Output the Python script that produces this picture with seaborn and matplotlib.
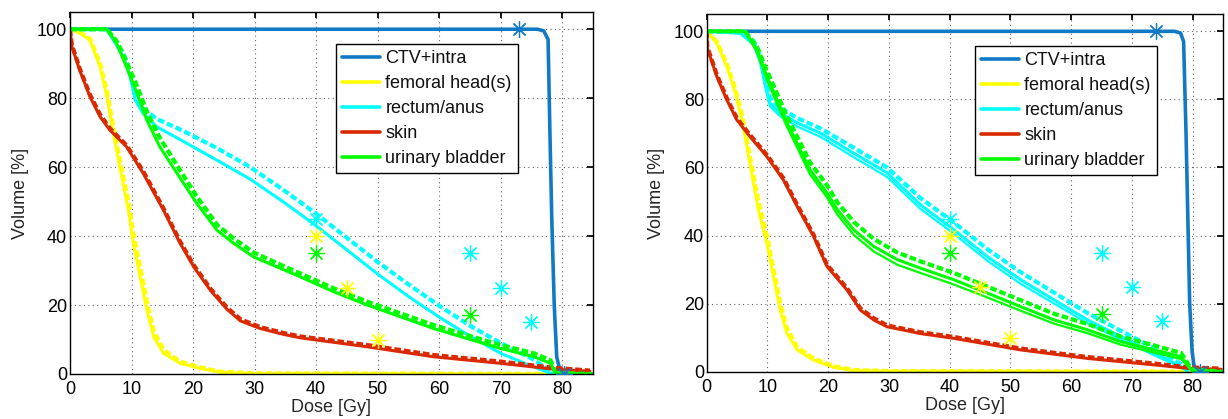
import numpy as np
import pandas as pd
import matplotlib
matplotlib.use("Agg")
import matplotlib.pyplot as plt
from matplotlib.lines import Line2D
import seaborn as sns

# ---------------------------------------------------------------- data
organs = ["CTV+intra", "femoral head(s)", "rectum/anus", "skin", "urinary bladder"]
colors = {"CTV+intra": "#127ac4", "femoral head(s)": "#ffff00",
          "rectum/anus": "#00ffff", "skin": "#d92900", "urinary bladder": "#00ff00"}

# Plan A (left) -- nominal DVH and a perturbed-scenario DVH per structure
ctv_a_dose = [0, 76, 77, 77.7, 78, 78.3, 78.7, 79.1, 79.7, 80]
ctv_a_vol = [100, 100, 99.5, 97, 70, 45, 20, 5, 0.5, 0]

fem_a_dose = [0, 1.5, 3.25, 4.9, 6, 7.05, 8.1, 9.5, 10.3, 11.4, 12.5, 13.6, 15.2, 17.9, 21.2, 24.4, 30, 85]
fem_a_vol = [100, 99, 96.8, 89, 80.4, 69.8, 60, 47.5, 37.9, 28.2, 18.6, 10.8, 6, 3.1, 1.6, 0.5, 0.1, 0]
fem_a_vol_alt = [100, 99.2, 97.2, 90, 82, 71.5, 62, 50, 40.5, 31, 21, 12.5, 7, 3.6, 1.9, 0.7, 0.2, 0]

rec_a_dose = [0, 6, 7, 8.7, 9.8, 10.6, 11.9, 14.1, 18.4, 23.9, 29.3, 35, 40, 45, 50, 55, 60, 65, 70, 75, 78, 80]
rec_a_vol = [100, 100, 97, 92, 86, 79.5, 75.5, 71.7, 67.5, 62, 56.5, 49.5, 43, 36, 29, 22.5, 16.5, 11, 6, 2.3, 0.3, 0]
rec_a_vol_alt = [100, 100, 97.5, 93, 87.5, 81, 77, 74, 70.5, 65.5, 60, 53, 46.5, 39.5, 32.5, 26, 19.8, 14, 9, 4.5, 1, 0]

skin_a_dose = [0, 0.3, 1.6, 3.25, 4.9, 6.5, 9.2, 11.9, 15.2, 17.9, 20.1, 22.8, 25.5, 27.7, 30.9, 34.7, 37.4, 48.3, 59.1, 70, 78.6, 84.5]
skin_a_vol = [100, 95, 88, 80.4, 74.6, 70.7, 65.9, 58.2, 47.5, 37.9, 31.1, 24.3, 18.8, 15.4, 13.2, 11.5, 10.5, 7.9, 5.0, 3.1, 1.4, 0.8]
skin_a_vol_alt = [100, 95.5, 88.5, 81, 75.2, 71.2, 66.3, 58.8, 48, 38.4, 31.6, 24.8, 19.3, 15.9, 13.6, 11.9, 10.9, 8.4, 5.5, 3.6, 1.8, 1.0]

bla_a_dose = [0, 6, 7.6, 9.2, 10.9, 12.5, 14.6, 17.4, 20.6, 23.9, 26.6, 29.8, 33.6, 37.4, 42.8, 48.3, 53.7, 59.1, 64.5, 70, 75.4, 78.1, 78.9, 85]
bla_a_vol = [100, 100, 95.8, 89, 81.4, 73.6, 65.9, 58.2, 49.5, 41.7, 37.9, 34, 31.1, 28.2, 23.9, 20, 16.6, 13.2, 10.3, 7.4, 5, 3.1, 0.2, 0]
bla_a_vol_alt = [100, 100, 96.5, 90.5, 83.5, 76, 68.5, 60.5, 51.5, 43.3, 39.3, 35.3, 32.2, 29.2, 24.9, 21, 17.6, 14.2, 11.3, 8.4, 6, 4, 0.3, 0]

# Plan B (right)
ctv_b_dose = [0, 77, 78, 78.5, 78.9, 79.2, 79.5, 79.9, 80.3, 81]
ctv_b_vol = [100, 100, 99.5, 97, 70, 45, 20, 6, 0.5, 0]

fem_b_dose = [0, 1.65, 3.3, 4.7, 5.8, 6.6, 7.4, 8.5, 9.9, 11, 12.1, 13.2, 14.9, 17.6, 20.9, 24.2, 30, 85]
fem_b_vol = [100, 96.6, 89.7, 81.9, 74, 66.2, 58.4, 47.6, 37.8, 27.9, 18.1, 11.3, 6.4, 3.4, 1.3, 0.3, 0.1, 0]
fem_b_vol_alt = [100, 97, 90.5, 83, 75.5, 68, 60.5, 50, 40, 30, 20, 12.8, 7.2, 3.9, 1.6, 0.5, 0.2, 0]

rec_b_dose = [0, 5.5, 7.7, 8.8, 9.6, 10.4, 12.1, 14.9, 18.7, 24.2, 29.7, 35.2, 40.7, 46.2, 51.7, 57.2, 62.7, 68.2, 73.7, 78.1, 79.2]
rec_b_vol = [100, 99.5, 96.6, 91.7, 84.8, 78.9, 76, 73.1, 70.1, 64.2, 58.4, 49, 41.7, 33.8, 27, 21.1, 15.2, 10.3, 5.4, 1.5, 0]
rec_b_vol_alt = [100, 99.7, 97.2, 92.8, 86.3, 80.5, 77.5, 74.5, 71.5, 65.8, 60, 51, 43.8, 36, 29.2, 23.2, 17.2, 12, 6.8, 2.2, 0]
rec_b_vol_low = [100, 99.3, 96, 90.8, 83.8, 78, 75, 72, 69, 63, 57.2, 47.8, 40.5, 32.6, 25.8, 20, 14.2, 9.4, 4.8, 1.2, 0]

skin_b_dose = [0, 0.1, 1.65, 3.3, 4.95, 7.1, 9.9, 12.6, 14.9, 17.6, 19.8, 23.1, 25.3, 27.5, 29.7, 35.2, 40.7, 51.7, 62.7, 73.7, 79.2, 84.7]
skin_b_vol = [100, 95, 86.8, 79.9, 74, 69.1, 63.2, 56.4, 48.5, 39.7, 30.9, 24, 18.1, 15.2, 13.2, 11.2, 9.8, 6.4, 3.9, 2.0, 1.0, 0.7]
skin_b_vol_alt = [100, 95.4, 87.3, 80.4, 74.5, 69.6, 63.7, 56.9, 49, 40.2, 31.4, 24.5, 18.6, 15.7, 13.6, 11.6, 10.2, 6.8, 4.3, 2.4, 1.3, 0.9]

bla_b_dose = [0, 6.3, 8.25, 9.9, 11.55, 13.2, 14.85, 17, 19.8, 21.5, 24.2, 27.5, 31.4, 35.2, 40.7, 46.2, 51.7, 57.2, 62.7, 68.2, 73.7, 78.1, 79.8, 85]
bla_b_vol = [100, 100, 94.6, 86.8, 79.9, 73.1, 67.2, 59.3, 52.5, 47.6, 41.7, 36.8, 32.9, 30.4, 27, 23.1, 19.1, 15.2, 12.3, 8.8, 6.4, 4.4, 0.5, 0]
bla_b_vol_alt = [100, 100, 95.5, 88.5, 81.8, 75, 69.2, 61.5, 54.8, 49.8, 44, 39, 35, 32.4, 29, 25, 21, 17, 14, 10.3, 7.7, 5.5, 0.7, 0]
bla_b_vol_low = [100, 100, 94, 85.8, 78.8, 72, 66, 58, 51.2, 46.2, 40.2, 35.3, 31.4, 29, 25.6, 21.8, 17.9, 14.1, 11.3, 7.9, 5.6, 3.7, 0.4, 0]

# Dose-volume objectives (dose Gy, volume %)
obj_a = {"CTV+intra": ([73, 80.3], [100, 0]),
         "femoral head(s)": ([40, 45, 50], [40, 25, 10]),
         "rectum/anus": ([40, 65, 70, 75], [45, 35, 25, 15]),
         "urinary bladder": ([40, 65], [35, 17])}
obj_b = {"CTV+intra": ([74, 81.2], [100, 0]),
         "femoral head(s)": ([40, 45, 50], [40, 25, 10]),
         "rectum/anus": ([40, 65, 70, 75], [45, 35, 25, 15]),
         "urinary bladder": ([40, 65], [35, 17])}

panels = [
    {"CTV+intra": (ctv_a_dose, ctv_a_vol, []),
     "femoral head(s)": (fem_a_dose, fem_a_vol, [fem_a_vol_alt]),
     "rectum/anus": (rec_a_dose, rec_a_vol, [rec_a_vol_alt]),
     "skin": (skin_a_dose, skin_a_vol, [skin_a_vol_alt]),
     "urinary bladder": (bla_a_dose, bla_a_vol, [bla_a_vol_alt])},
    {"CTV+intra": (ctv_b_dose, ctv_b_vol, []),
     "femoral head(s)": (fem_b_dose, fem_b_vol, [fem_b_vol_alt]),
     "rectum/anus": (rec_b_dose, rec_b_vol, [rec_b_vol_alt, rec_b_vol_low]),
     "skin": (skin_b_dose, skin_b_vol, [skin_b_vol_alt]),
     "urinary bladder": (bla_b_dose, bla_b_vol, [bla_b_vol_alt, bla_b_vol_low])},
]
objectives = [obj_a, obj_b]

x_ticks = [0, 10, 20, 30, 40, 50, 60, 70, 80]
y_ticks = [0, 20, 40, 60, 80, 100]

# ---------------------------------------------------------------- style
sns.set_theme(style="white")
plt.rcParams["font.family"] = ["Liberation Sans", "DejaVu Sans"]
plt.rcParams.update({
    "axes.edgecolor": "black", "axes.linewidth": 1.0,
    "xtick.direction": "in", "ytick.direction": "in",
    "xtick.top": True, "ytick.right": True,
    "xtick.major.size": 4, "ytick.major.size": 4,
    "xtick.color": "black", "ytick.color": "black",
    "xtick.labelsize": 13, "ytick.labelsize": 13,
    "axes.labelsize": 13, "text.color": "#111111",
})

fig = plt.figure(figsize=(12.28, 4.19), dpi=100)
ax_a = fig.add_axes([0.0570, 0.1074, 0.4259, 0.8640])
ax_b = fig.add_axes([0.5755, 0.1129, 0.4205, 0.8530])

asterisk = (8, 2, 0)
alt_styles = [dict(lw=3.0, linestyle=(0, (1.6, 0.7))),
              dict(lw=1.6, linestyle="-")]

for ax, curves, obj in zip([ax_a, ax_b], panels, objectives):
    for name in organs:
        dose, vol, alts = curves[name]
        c = colors[name]
        for k, alt in enumerate(alts):
            sns.lineplot(x=dose, y=alt, ax=ax, color=c, sort=False,
                         estimator=None, **alt_styles[k])
        sns.lineplot(x=dose, y=vol, ax=ax, color=c, sort=False,
                     estimator=None, lw=2.2 if name != "CTV+intra" else 2.6)
    for name in organs:
        if name in obj:
            d, v = obj[name]
            sns.scatterplot(x=d, y=v, ax=ax, marker=asterisk, s=130,
                            color=colors[name], linewidth=0.9, zorder=5)

    ax.set_xlim(0, 85)
    ax.set_ylim(0, 105)
    ax.set_xticks(x_ticks)
    ax.set_yticks(y_ticks)
    ax.tick_params(axis="x", pad=5)
    ax.tick_params(axis="y", pad=2)
    ax.grid(True, linestyle=(0, (1, 3)), linewidth=0.8, color="#666666")
    ax.set_axisbelow(True)
    ax.set_xlabel("Dose [Gy]", labelpad=1)
    ax.set_ylabel("Volume [%]", labelpad=6)
    for s in ax.spines.values():
        s.set_visible(True)

    handles = [Line2D([], [], color=colors[n], lw=2.6) for n in organs]
    leg = ax.legend(handles, organs, loc="upper left",
                    bbox_to_anchor=(0.508 if ax is ax_a else 0.519, 0.912),
                    fontsize=13, frameon=True, fancybox=False,
                    edgecolor="black", framealpha=1, handlelength=2.1,
                    handletextpad=0.3, labelspacing=0.44, borderpad=0.35,
                    borderaxespad=0)
    leg.get_frame().set_linewidth(1.0)

fig.savefig("out.png", dpi=100)
